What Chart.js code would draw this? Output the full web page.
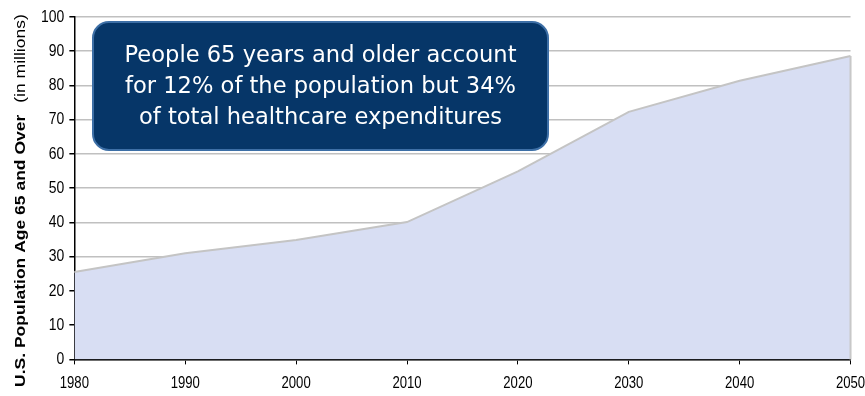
<!DOCTYPE html>
<html>
<head>
<meta charset="utf-8">
<script src="https://cdn.jsdelivr.net/npm/chart.js@4.4.1/dist/chart.umd.min.js"></script>
<style>
  html, body { margin: 0; padding: 0; background: #fff; }
  #wrap { width: 865px; height: 396px; position: relative; }
</style>
</head>
<body>
<div id="wrap"><canvas id="popChart"></canvas></div>
<script>
// --- DATA ---
const years = ['1980', '1990', '2000', '2010', '2020', '2030', '2040', '2050'];
const population65 = [25.5, 31.0, 34.9, 40.1, 54.9, 72.3, 81.4, 88.6];
const yTicks = [0, 10, 20, 30, 40, 50, 60, 70, 80, 90, 100];
const calloutLines = [
    'People 65 years and older account',
    'for 12% of the population but 34%',
    'of total healthcare expenditures'
];

const SANS = '"Liberation Sans", Arial, sans-serif';
const SQUEEZE = 0.82; // narrow look for axis text

// tick labels are laid out by Chart.js (transparent), then redrawn narrower
const narrowTicksPlugin = {
    id: 'narrowTicks',
    afterDraw(chart) {
        const ctx = chart.ctx;
        const xs = chart.scales.x, ys = chart.scales.y;
        ctx.save();
        ctx.fillStyle = '#000';
        ctx.font = '17px ' + SANS;
        ctx.textBaseline = 'middle';
        ys.ticks.forEach((t, i) => {
            const py = ys.getPixelForTick(i);
            ctx.save();
            ctx.translate(ys.right - 10, py);
            ctx.scale(SQUEEZE, 1);
            ctx.textAlign = 'right';
            ctx.fillText(String(t.value), 0, 0);
            ctx.restore();
        });
        ctx.font = '16px ' + SANS;
        xs.ticks.forEach((t, i) => {
            const px = xs.getPixelForTick(i);
            ctx.save();
            ctx.translate(px, xs.top + 24);
            ctx.scale(SQUEEZE, 1);
            ctx.textAlign = 'center';
            ctx.fillText(years[i], 0, 0);
            ctx.restore();
        });
        ctx.restore();
    }
};

// y axis title: bold part + light part, drawn rotated and a bit squeezed
const yTitlePlugin = {
    id: 'yTitle',
    afterDraw(chart) {
        const ctx = chart.ctx;
        const bold = 'U.S. Population Age 65 and Over';
        const light = '(in millions)';
        ctx.save();
        ctx.translate(25, 387);
        ctx.scale(SQUEEZE, 1);
        ctx.rotate(-Math.PI / 2);
        ctx.fillStyle = '#000';
        ctx.textBaseline = 'alphabetic';
        ctx.font = 'bold 17.5px ' + SANS;
        ctx.fillText(bold, 0, 0);
        const w = ctx.measureText(bold).width;
        ctx.font = '17.5px ' + SANS;
        ctx.fillText(light, w + 12, 0);
        ctx.restore();
    }
};

// close the area on the right side with the same grey edge
const areaEdgePlugin = {
    id: 'areaEdge',
    afterDatasetsDraw(chart) {
        const ctx = chart.ctx;
        const xs = chart.scales.x, ys = chart.scales.y;
        const last = population65.length - 1;
        const px = xs.getPixelForValue(last);
        ctx.save();
        ctx.strokeStyle = '#c8c8c8';
        ctx.lineWidth = 2;
        ctx.beginPath();
        ctx.moveTo(px, ys.getPixelForValue(population65[last]));
        ctx.lineTo(px, ys.getPixelForValue(0));
        ctx.stroke();
        ctx.restore();
    }
};

// rounded navy callout box
const calloutPlugin = {
    id: 'callout',
    afterDraw(chart) {
        const ctx = chart.ctx;
        const x = 93, y = 22, w = 455, h = 128, r = 16;
        ctx.save();
        ctx.beginPath();
        ctx.roundRect(x, y, w, h, r);
        ctx.fillStyle = '#063668';
        ctx.fill();
        ctx.lineWidth = 2;
        ctx.strokeStyle = '#3d6fa6';
        ctx.stroke();
        ctx.fillStyle = '#fff';
        ctx.font = '22.5px "DejaVu Sans", sans-serif';
        ctx.textAlign = 'center';
        ctx.textBaseline = 'middle';
        // fit the longest line to the text block width
        const widest = Math.max(...calloutLines.map(l => ctx.measureText(l).width));
        ctx.translate(x + w / 2, 0);
        ctx.scale(392 / widest, 1);
        calloutLines.forEach((line, i) => {
            ctx.fillText(line, 0, 56 + i * 31);
        });
        ctx.restore();
    }
};

const ctx = document.getElementById('popChart').getContext('2d');
new Chart(ctx, {
    type: 'line',
    data: {
        labels: years,
        datasets: [{
            data: population65,
            fill: 'origin',
            backgroundColor: '#d8def3',
            borderColor: '#c4c4c4',
            borderWidth: 2,
            pointRadius: 0,
            tension: 0
        }]
    },
    options: {
        responsive: true,
        maintainAspectRatio: false,
        animation: false,
        layout: { padding: { left: 36, right: -4, top: 17, bottom: 16 } },
        plugins: {
            legend: { display: false },
            tooltip: { enabled: false }
        },
        scales: {
            x: {
                offset: false,
                grid: { drawOnChartArea: false, drawTicks: true, tickLength: 5, tickColor: '#000' },
                border: { color: '#000', width: 1.5 },
                ticks: {
                    color: 'rgba(0,0,0,0)',
                    font: { family: SANS, size: 13 },
                    maxRotation: 0,
                    padding: 0
                }
            },
            y: {
                min: 0,
                max: 100,
                afterBuildTicks(scale) {
                    scale.ticks = yTicks.map(v => ({ value: v }));
                },
                grid: { color: '#c0c0c0', lineWidth: 1.5, tickLength: 5, tickColor: '#000' },
                border: { color: '#000', width: 1.5 },
                ticks: {
                    color: 'rgba(0,0,0,0)',
                    font: { family: SANS, size: 14 },
                    padding: 5
                }
            }
        }
    },
    plugins: [areaEdgePlugin, calloutPlugin, narrowTicksPlugin, yTitlePlugin]
});
</script>
</body>
</html>
